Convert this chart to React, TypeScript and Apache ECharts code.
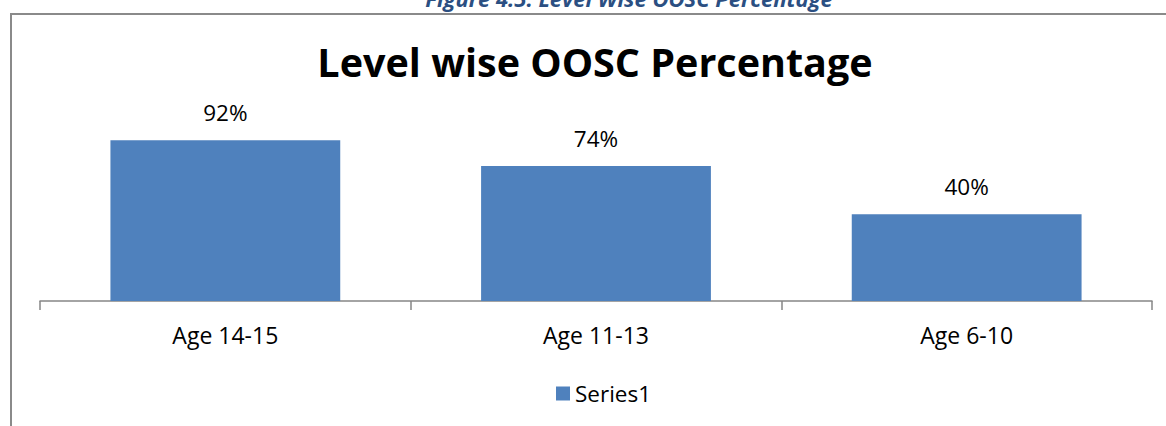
import React, { useEffect, useRef } from "react";
import * as echarts from "echarts";

const categories = ["Age 14-15", "Age 11-13", "Age 6-10"];
const series1 = [92, 74, 40];
const seriesName = "Series1";
const chartTitle = "Level wise OOSC Percentage";
const captionText = "Figure 4.5: Level Wise OOSC Percentage";

const FONT = "'Open Sans', 'Noto Sans', sans-serif";

export default function App() {
  const ref = useRef<HTMLDivElement>(null);
  useEffect(() => {
    if (!ref.current) return;
    const chart = echarts.init(ref.current, undefined, { renderer: "svg" });
    chart.setOption({
      animation: false,
      backgroundColor: "#ffffff",
      textStyle: { fontFamily: FONT },
      graphic: [
        {
          type: "rect",
          shape: { x: 11, y: 14, width: 1300, height: 600 },
          style: { fill: "none", stroke: "#8a8a8a", lineWidth: 2 },
          silent: true,
        },
        {
          type: "text",
          x: 629,
          y: -2,
          style: {
            text: captionText,
            fontFamily: FONT,
            fontSize: 22,
            fontWeight: "bold",
            fontStyle: "italic",
            fill: "#2b4f82",
            align: "center",
            verticalAlign: "middle",
          },
        },
        {
          type: "text",
          x: 595,
          y: 62,
          style: {
            text: chartTitle,
            fontFamily: FONT,
            fontSize: 39.5,
            fontWeight: "bold",
            fill: "#000000",
            align: "center",
            verticalAlign: "middle",
          },
        },
      ],
      legend: {
        data: [seriesName],
        left: 551,
        top: 377,
        icon: "rect",
        itemWidth: 14,
        itemHeight: 14,
        textStyle: { fontFamily: FONT, fontSize: 22.5, color: "#000" },
      },
      grid: { left: 40, right: 14, top: 129, bottom: 125, containLabel: false },
      xAxis: {
        type: "category",
        data: categories,
        boundaryGap: true,
        axisLine: { show: true, onZero: false, lineStyle: { color: "#868686", width: 1.5 } },
        axisTick: { show: true, length: 9, alignWithLabel: false, lineStyle: { color: "#868686", width: 1.5 } },
        axisLabel: { fontFamily: FONT, fontSize: 23, color: "#000", margin: 22 },
        splitLine: { show: false },
      },
      yAxis: {
        type: "value",
        min: -21,
        max: 100,
        startValue: -21,
        show: false,
        splitLine: { show: false },
      },
      series: [
        {
          name: seriesName,
          type: "bar",
          data: series1,
          barCategoryGap: "38%",
          itemStyle: { color: "#4f81bd" },
          label: {
            show: true,
            position: "top",
            distance: 16,
            formatter: "{c}%",
            fontFamily: FONT,
            fontSize: 22.5,
            color: "#000",
          },
        },
      ],
    });
    return () => chart.dispose();
  }, []);
  return (
    <div
      ref={ref}
      style={{ position: "fixed", left: 0, top: 0, width: 1166, height: 426 }}
    />
  );
}
